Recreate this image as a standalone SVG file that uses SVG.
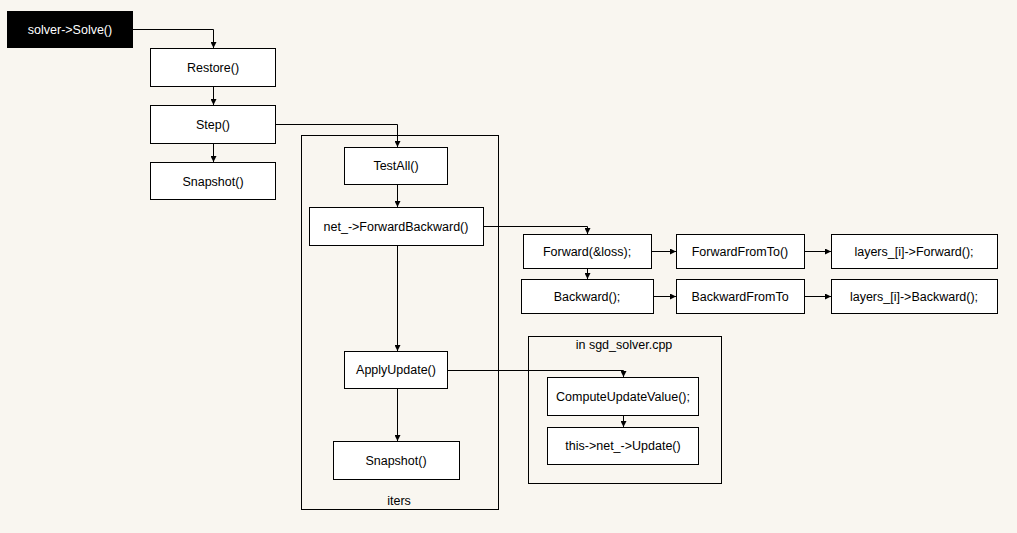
<svg xmlns="http://www.w3.org/2000/svg" width="1017" height="533" viewBox="0 0 1017 533">
<style>
.n{fill:#fff;stroke:#000;stroke-width:1}
.c{fill:none;stroke:#000;stroke-width:1}
.t{font-family:"Liberation Sans",Arial,sans-serif;font-size:12.5px;fill:#000;text-anchor:middle}
.e{fill:none;stroke:#000;stroke-width:1;marker-end:url(#a)}
</style>
<defs>
<marker id="a" markerWidth="7" markerHeight="6" refX="6" refY="3" orient="auto" markerUnits="userSpaceOnUse">
<path d="M0,0 L6,3 L0,6 Z" fill="#000"/>
</marker>
</defs>
<rect width="1017" height="533" fill="#f9f6f0"/>
<g id="iters"><rect class="c" x="301.5" y="135.5" width="197" height="374"/><text class="t" x="399" y="505">iters</text></g>
<g id="sgd"><rect class="c" x="528.5" y="336.5" width="193" height="147"/><text class="t" x="624" y="349">in sgd_solver.cpp</text></g>
<g id="connectors">
<path class="e" d="M133,29.5 H213.5 V48"/>
<path class="e" d="M213.5,86 V105"/>
<path class="e" d="M213.5,143 V162"/>
<path class="e" d="M275,124.5 H397.5 V147"/>
<path class="e" d="M397.5,184 V207"/>
<path class="e" d="M483,226.5 H587.5 V234"/>
<path class="e" d="M587.5,268 V279"/>
<path class="e" d="M651,251.5 H676"/>
<path class="e" d="M653,296.5 H676"/>
<path class="e" d="M804,251.5 H831"/>
<path class="e" d="M804,296.5 H831"/>
<path class="e" d="M397.5,245 V351"/>
<path class="e" d="M397.5,388 V441"/>
<path class="e" d="M447,370.5 H623.5 V377"/>
<path class="e" d="M623.5,415 V427"/>
</g>
<g id="solve"><rect x="7" y="11" width="126" height="37" fill="#000"/><text class="t" x="70" y="34" style="fill:#fff">solver-&gt;Solve()</text></g>
<g id="restore"><rect class="n" x="150.5" y="48.5" width="125" height="38"/><text class="t" x="213" y="72">Restore()</text></g>
<g id="step"><rect class="n" x="150.5" y="105.5" width="125" height="38"/><text class="t" x="213" y="129">Step()</text></g>
<g id="snapshot1"><rect class="n" x="150.5" y="162.5" width="125" height="37"/><text class="t" x="213" y="186">Snapshot()</text></g>
<g id="testall"><rect class="n" x="344.5" y="147.5" width="103" height="37"/><text class="t" x="396" y="170">TestAll()</text></g>
<g id="fb"><rect class="n" x="309.5" y="207.5" width="174" height="38"/><text class="t" x="396" y="231">net_-&gt;ForwardBackward()</text></g>
<g id="forward"><rect class="n" x="523.5" y="234.5" width="128" height="34"/><text class="t" x="587" y="256">Forward(&amp;loss);</text></g>
<g id="backward"><rect class="n" x="521.5" y="279.5" width="132" height="34"/><text class="t" x="587" y="301">Backward();</text></g>
<g id="fft"><rect class="n" x="676.5" y="234.5" width="128" height="34"/><text class="t" x="740" y="256">ForwardFromTo()</text></g>
<g id="bft"><rect class="n" x="676.5" y="279.5" width="128" height="34"/><text class="t" x="740" y="301">BackwardFromTo</text></g>
<g id="lf"><rect class="n" x="831.5" y="234.5" width="166" height="34"/><text class="t" x="914" y="256">layers_[i]-&gt;Forward();</text></g>
<g id="lb"><rect class="n" x="831.5" y="279.5" width="166" height="34"/><text class="t" x="914" y="301">layers_[i]-&gt;Backward();</text></g>
<g id="apply"><rect class="n" x="344.5" y="351.5" width="103" height="37"/><text class="t" x="396" y="374">ApplyUpdate()</text></g>
<g id="snapshot2"><rect class="n" x="333.5" y="441.5" width="126" height="38"/><text class="t" x="396" y="465">Snapshot()</text></g>
<g id="cuv"><rect class="n" x="547.5" y="377.5" width="151" height="38"/><text class="t" x="623" y="401">ComputeUpdateValue();</text></g>
<g id="upd"><rect class="n" x="547.5" y="427.5" width="151" height="37"/><text class="t" x="623" y="450">this-&gt;net_-&gt;Update()</text></g>
</svg>
